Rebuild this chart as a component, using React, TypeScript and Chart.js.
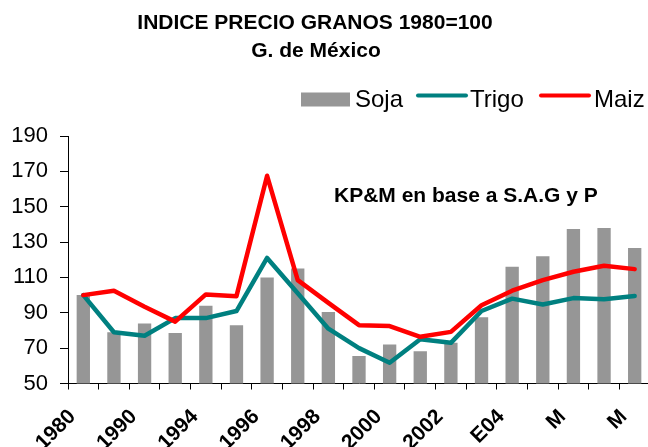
import React, { useEffect, useRef } from "react";
import { Chart, registerables } from "chart.js";
Chart.register(...registerables);

// Tick labels as they appear (only every other category is labelled)
const tickLabels = ["1980", "", "1990", "", "1994", "", "1996", "", "1998", "", "2000", "", "2002", "", "E04", "", "M", "", "M"];
const soja = [100, 79, 84, 78.5, 94, 83, 110, 115, 90.5, 65.5, 72, 68.3, 73, 87.5, 116, 122, 137.4, 138, 126.6];
const trigo = [100, 79, 77, 87, 87, 91, 121, 101, 81, 70, 61.7, 75, 73, 91, 98, 94.7, 98.3, 97.7, 99.5];
const maiz = [100, 102.5, 93.4, 85, 100.4, 99.4, 167.5, 108.5, 95.6, 83, 82.5, 76.4, 79.2, 94.3, 102.5, 108.5, 113.2, 116.6, 114.7];
const seriesNames = ["Soja", "Trigo", "Maiz"];
const titleLines = ["INDICE PRECIO GRANOS 1980=100", "G. de México"];
const note = "KP&M en base a S.A.G y P";
const yMin = 50;
const yMax = 190;
const yStep = 20;

const FONT = "'Liberation Sans', Arial, Helvetica, sans-serif";
const GRAY = "#969696";
const TEAL = "#008080";
const RED = "#FF0000";

export default function App() {
  const ref = useRef<HTMLCanvasElement>(null);

  useEffect(() => {
    if (!ref.current) return;
    const overlay = {
      id: "overlay",
      afterDraw(chart: any) {
        const ctx = chart.ctx as CanvasRenderingContext2D;
        const ds = chart.data.datasets;
        ctx.save();
        ctx.fillStyle = "#000";
        ctx.textBaseline = "alphabetic";
        ctx.textAlign = "center";
        ctx.font = `bold 21px ${FONT}`;
        ctx.fillText(titleLines[0], 315, 29);
        ctx.fillText(titleLines[1], 316, 57);

        // legend
        ctx.textAlign = "left";
        ctx.fillStyle = ds[0].backgroundColor;
        ctx.fillRect(301, 92.5, 49, 14);
        ctx.fillStyle = "#000";
        ctx.font = `24px ${FONT}`;
        ctx.fillText(ds[0].label, 355, 107);
        ctx.lineCap = "round";
        ctx.lineWidth = 4;
        ctx.strokeStyle = ds[1].borderColor;
        ctx.beginPath();
        ctx.moveTo(418, 95.5);
        ctx.lineTo(466, 95.5);
        ctx.stroke();
        ctx.fillText(ds[1].label, 470, 107);
        ctx.strokeStyle = ds[2].borderColor;
        ctx.beginPath();
        ctx.moveTo(541, 95.5);
        ctx.lineTo(589, 95.5);
        ctx.stroke();
        ctx.fillText(ds[2].label, 594, 107);

        // source note
        ctx.font = `bold 21px ${FONT}`;
        ctx.fillText(note, 334, 202);
        ctx.restore();
      },
    };

    const chart = new Chart(ref.current, {
      type: "bar",
      data: {
        labels: tickLabels,
        datasets: [
          {
            type: "bar",
            label: seriesNames[0],
            data: soja,
            backgroundColor: GRAY,
            borderWidth: 0,
            barPercentage: 0.435,
            categoryPercentage: 1,
            order: 3,
          } as any,
          {
            type: "line",
            label: seriesNames[1],
            data: trigo,
            borderColor: TEAL,
            backgroundColor: TEAL,
            borderWidth: 4.5,
            pointRadius: 0,
            tension: 0,
            borderCapStyle: "round",
            borderJoinStyle: "round",
            order: 2,
          },
          {
            type: "line",
            label: seriesNames[2],
            data: maiz,
            borderColor: RED,
            backgroundColor: RED,
            borderWidth: 4.5,
            pointRadius: 0,
            tension: 0,
            borderCapStyle: "round",
            borderJoinStyle: "round",
            order: 1,
          },
        ],
      },
      options: {
        responsive: true,
        maintainAspectRatio: false,
        animation: false,
        layout: { padding: { top: 136, right: 2, left: 0, bottom: 0 } },
        plugins: {
          legend: { display: false },
          title: { display: false },
          tooltip: { enabled: false },
        },
        scales: {
          x: {
            offset: true,
            grid: { offset: true, drawOnChartArea: false, color: "#000", tickLength: 6, lineWidth: 1 },
            border: { color: "#000", width: 1 },
            ticks: {
              autoSkip: false,
              maxRotation: 45,
              minRotation: 45,
              font: { family: FONT, size: 21, weight: "bold" },
              color: "#000",
              padding: 15,
              labelOffset: -11,
            },
            afterFit: (s: any) => {
              s.height = 63.5;
              s.paddingLeft = 0;
              s.paddingRight = 0;
            },
          },
          y: {
            min: yMin,
            max: yMax,
            ticks: { stepSize: yStep, font: { family: FONT, size: 22 }, color: "#000", padding: 12 },
            grid: { drawOnChartArea: false, color: "#000", tickLength: 8 },
            border: { color: "#000", width: 1 },
            afterFit: (s: any) => {
              s.width = 68;
              s.paddingTop = 0;
              s.paddingBottom = 0;
            },
          },
        },
      } as any,
      plugins: [overlay],
    });
    return () => chart.destroy();
  }, []);

  return (
    <div style={{ position: "absolute", left: 0, top: 0, width: 648, height: 447, overflow: "hidden", background: "#fff" }}>
      <div style={{ position: "relative", width: 652, height: 447 }}>
        <canvas ref={ref} />
      </div>
    </div>
  );
}
